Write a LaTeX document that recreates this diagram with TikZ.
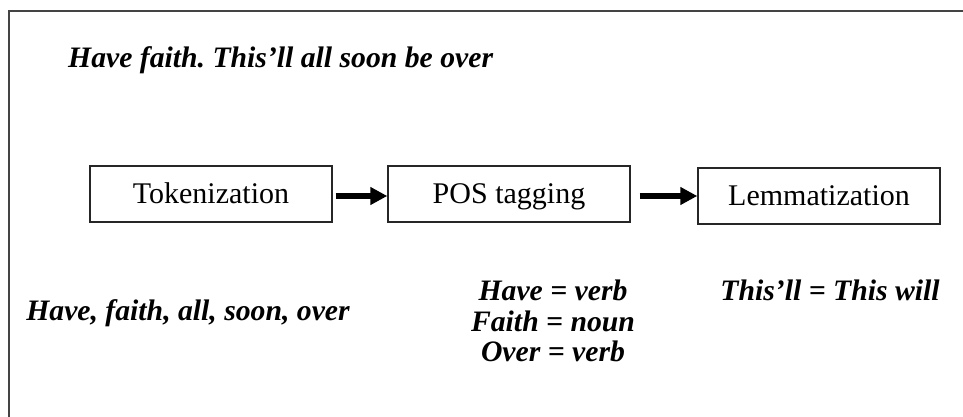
\documentclass[tikz,border=0pt]{standalone}
\usepackage{fontspec}
\setmainfont{Liberation Serif}
\usetikzlibrary{arrows.meta}
\definecolor{framegray}{HTML}{444444}
\frenchspacing
\begin{document}
\begin{tikzpicture}[x=1pt,y=-1pt,
  stage/.style={draw=black!85,line width=1.4pt,minimum width=242pt,minimum height=56pt,
    inner sep=0pt,text height=22pt,text depth=4pt,font=\fontsize{30}{34}\selectfont},
  note/.style={font=\fontsize{29.7}{30.5}\selectfont\bfseries\itshape,inner sep=0pt,align=center},
  flow/.style={line width=5.5pt,-{Triangle[length=17pt,width=17pt]}}]
  \useasboundingbox (0,0) rectangle (963,417);
  % cropped outer frame: only top and left edges are visible
  \draw[framegray,line width=2pt] (9,417) -- (9,11) -- (963,11);

  \node[note,anchor=west] (title) at (68,60) {Have faith. This’ll all soon be over};

  \node[stage] (tok) at (211,194) {Tokenization};
  \node[stage] (pos) at (509,194) {POS tagging};
  \node[stage] (lem) at (819,196) {Lemmatization};

  \draw[flow] ([xshift=3pt,yshift=-2pt]tok.east) -- ([yshift=-2pt]pos.west);
  \draw[flow] ([xshift=9pt,yshift=-2pt]pos.east) -- (lem.west);

  \node[note] (toks) at (188,313) {Have, faith, all, soon, over};
  \node[note] (tags) at (553,321) {Have = verb\\Faith = noun\\Over = verb};
  \node[note] (lems) at (830,290) {This’ll = This will};
\end{tikzpicture}
\end{document}
